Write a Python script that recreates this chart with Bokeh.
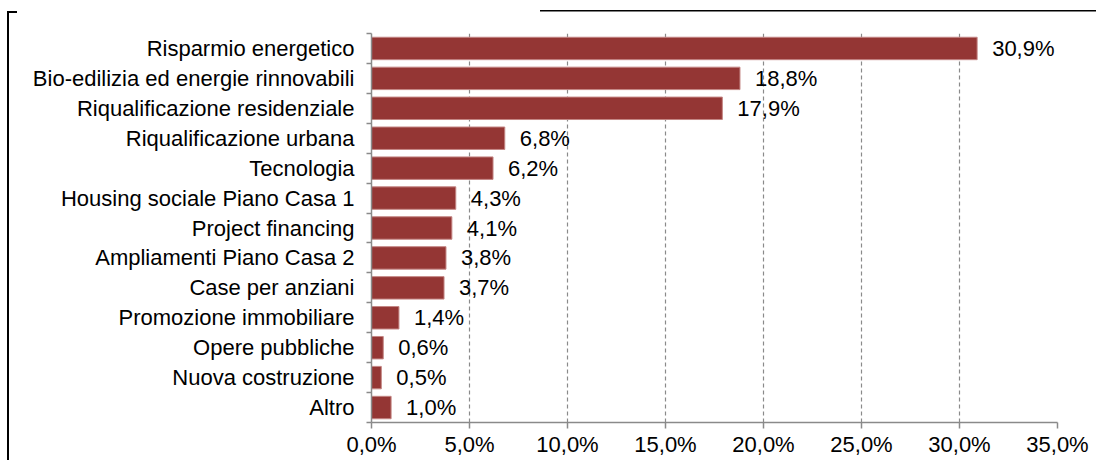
from bokeh.plotting import figure
from bokeh.models import FixedTicker, Range1d, ColumnDataSource, InlineStyleSheet
from bokeh.embed import file_html
from bokeh.resources import INLINE
from bokeh.core.properties import value

categories = [
    "Risparmio energetico",
    "Bio-edilizia ed energie rinnovabili",
    "Riqualificazione residenziale",
    "Riqualificazione urbana",
    "Tecnologia",
    "Housing sociale Piano Casa 1",
    "Project financing",
    "Ampliamenti Piano Casa 2",
    "Case per anziani",
    "Promozione immobiliare",
    "Opere pubbliche",
    "Nuova costruzione",
    "Altro",
]
values = [30.9, 18.8, 17.9, 6.8, 6.2, 4.3, 4.1, 3.8, 3.7, 1.4, 0.6, 0.5, 1.0]
x_ticks = [0, 5, 10, 15, 20, 25, 30, 35]
x_tick_labels = ["0,0%", "5,0%", "10,0%", "15,0%", "20,0%", "25,0%", "30,0%", "35,0%"]

FONT = "Liberation Sans"
FS = "22px"
n = len(categories)
ypos = [n - 1 - i for i in range(n)]
labels = [f"{v:.1f}".replace(".", ",") + "%" for v in values]

src = ColumnDataSource(dict(y=ypos, v=values, lab=labels, cat=categories))

# page-frame decoration (left border and top rule of the original document)
frame_css = InlineStyleSheet(css="""
:host { position: relative; }
:host::after {
  content: "";
  position: absolute;
  left: 0; top: 0; width: 1096px; height: 460px;
  pointer-events: none;
  z-index: 100;
  background:
    linear-gradient(#000, #000) 7px 11px / 2px 449px no-repeat,
    linear-gradient(#000, #000) 7px 11px / 10px 2px no-repeat,
    linear-gradient(#000, #000) 540px 10px / 556px 1.5px no-repeat;
}
""")

W, H = 1096, 460
p = figure(width=W, height=H, output_backend="svg", toolbar_location=None,
           x_range=Range1d(0, 35), y_range=Range1d(-0.5, n - 0.5),
           min_border_left=371, min_border_right=39, min_border_top=33,
           min_border_bottom=38, stylesheets=[frame_css])
p.outline_line_color = None
p.background_fill_color = "white"
p.border_fill_color = "white"

p.hbar(y="y", left=0, right="v", height=0.75, source=src,
       fill_color="#943634", line_color="#c48684", line_width=1)
p.text(x="v", y="y", text="lab", source=src, x_offset=15,
       text_align="left", text_baseline="middle",
       text_font=value(FONT), text_font_size=FS, text_color="black")

grey = "#8a8a8a"
# x axis
xa = p.xaxis[0]
xa.ticker = FixedTicker(ticks=x_ticks)
xa.major_label_overrides = {t: l for t, l in zip(x_ticks, x_tick_labels)}
xa.major_label_text_font = FONT
xa.major_label_text_font_size = FS
xa.major_label_text_color = "black"
xa.axis_line_color = grey
xa.axis_line_width = 1.5
xa.major_tick_line_color = grey
xa.major_tick_line_width = 1.5
xa.major_tick_out = 6
xa.major_tick_in = 0
xa.minor_tick_line_color = None
xa.major_label_standoff = 3

# y axis: labels at centres, ticks at category boundaries
ya = p.yaxis[0]
ya.ticker = FixedTicker(ticks=ypos, minor_ticks=[i - 0.5 for i in range(n + 1)])
ya.major_label_overrides = {y: c for y, c in zip(ypos, categories)}
ya.major_label_text_font = FONT
ya.major_label_text_font_size = FS
ya.major_label_text_color = "black"
ya.axis_line_color = grey
ya.axis_line_width = 1.5
ya.major_tick_out = 0
ya.major_tick_in = 0
ya.major_tick_line_color = None
ya.minor_tick_line_color = grey
ya.minor_tick_line_width = 1.5
ya.minor_tick_out = 5
ya.minor_tick_in = 0
ya.major_label_standoff = 12

p.xgrid.ticker = FixedTicker(ticks=x_ticks[1:])
p.xgrid.grid_line_color = grey
p.xgrid.grid_line_dash = "4 3"
p.xgrid.grid_line_width = 1.2
p.ygrid.grid_line_color = None

open("out.html", "w").write(file_html(p, INLINE))
